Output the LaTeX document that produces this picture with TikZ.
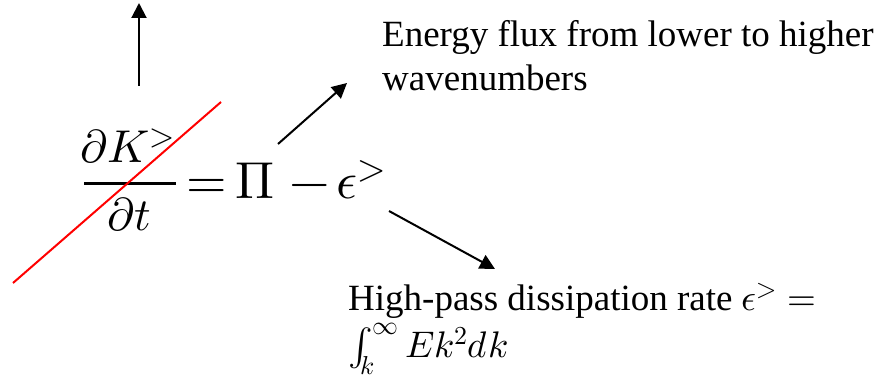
\documentclass[tikz,border=0pt]{standalone}
\usepackage{unicode-math}
\setmainfont{Liberation Serif}
\setmathfont{Latin Modern Math}
\usetikzlibrary{arrows.meta}
\tikzset{
  arr/.style={line width=2pt,-{Triangle[width=15pt,length=15pt]}},
  txt/.style={font=\fontsize{37}{44}\selectfont, inner sep=0pt, anchor=base west},
  eqfrac/.style={font=\fontsize{46}{54}\selectfont, inner sep=0pt, anchor=base},
  eqbig/.style={font=\fontsize{52}{60}\selectfont, inner sep=0pt, anchor=base},
  cross/.style={draw=red, line width=2pt},
}
\begin{document}
\begin{tikzpicture}[x=1pt,y=-1pt]
\path[use as bounding box] (0,0) rectangle (887,379);
% fraction
\node[eqfrac] (num) at (128,163) {$\partial K^{>}$};
\node[eqfrac] (den) at (129,231) {$\partial t$};
\coordinate (barl) at (84,184);
\coordinate (barr) at (176,184);
\draw[line width=3pt] (barl) -- (barr);
% right-hand side
\node[eqbig] (eq) at (207,199) {$=$};
\node[eqbig] (pi) at (254.5,199) {$\Pi$};
\node[eqbig] (minus) at (309.5,199) {$-$};
\node[eqbig, anchor=base west] (eps) at (336,199) {$\epsilon^{>}$};
% crossing red line
\coordinate (r1) at (13,283);
\coordinate (r2) at (221,102);
\draw[cross] (r1) -- (r2);
% arrows
\coordinate (up0) at (139,86);
\coordinate (up1) at (139,3);
\draw[arr] (up0) -- (up1);
\coordinate (f0) at (278,144);
\coordinate (f1) at (347,83);
\draw[arr] (f0) -- (f1);
\coordinate (d0) at (389,211);
\coordinate (d1) at (495,269);
\draw[arr] (d0) -- (d1);
% texts
\node[txt] (en1) at (382,47) {Energy flux from lower to higher};
\node[txt] (en2) at (382,91) {wavenumbers};
\node[txt] (hp1) at (348,311) {High-pass dissipation rate $\epsilon^{>} =$};
\node[txt] (hp2) at (348,358) {$\int_{k}^{\infty} E k^{2} dk$};
\end{tikzpicture}
\end{document}
